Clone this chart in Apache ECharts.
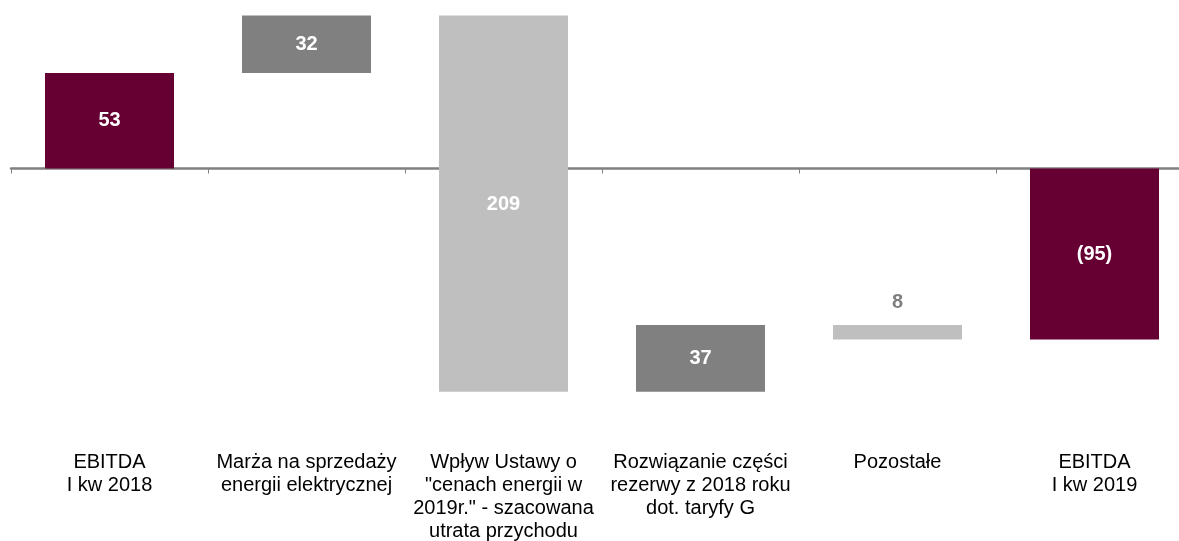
<!DOCTYPE html>
<html>
<head>
<meta charset="utf-8">
<script src="https://cdn.jsdelivr.net/npm/echarts@6/dist/echarts.min.js"></script>
<style>
  html, body { margin: 0; padding: 0; background: #fff; }
  #chart { width: 1179px; height: 541px; }
</style>
</head>
<body>
<div id="chart"></div>
<script>
var categories = [
  'EBITDA\nI kw 2018',
  'Marża na sprzedaży\nenergii elektrycznej',
  'Wpływ Ustawy o\n"cenach energii w\n2019r." - szacowana\nutrata przychodu',
  'Rozwiązanie części\nrezerwy z 2018 roku\ndot. taryfy G',
  'Pozostałe',
  'EBITDA\nI kw 2019'
];
var deltas = [53, 32, -209, 37, -8, -95];
var isTotal = [true, false, false, false, false, true];
var valueLabels = ['53', '32', '209', '37', '8', '(95)'];

// styles
var barColors = ['#660033', '#808080', '#BFBFBF', '#808080', '#BFBFBF', '#660033'];
var labelColors = ['#fff', '#fff', '#fff', '#fff', '#808080', '#fff'];
var labelPos = ['inside', 'inside', 'insideTop', 'inside', 'top', 'inside'];
var labelDist = [0, 0, 179, 0, 13, 0];

var bars = [];
var running = 0;
deltas.forEach(function (d, i) {
  var lo, hi;
  if (isTotal[i]) {
    lo = 0; hi = d; running = d;
  } else {
    lo = running; hi = running + d; running = hi;
  }
  bars.push([i, lo, hi]);
});

var myChart = echarts.init(document.getElementById('chart'));
var option = {
  animation: false,
  grid: { left: 11, width: 1182, top: 6.5, height: 432, outerBoundsMode: 'none', containLabel: false },
  xAxis: [{
    type: 'category',
    data: categories,
    position: 'top',
    axisLine: { onZero: true, lineStyle: { color: '#808080', width: 2.5 } },
    axisTick: { show: true, inside: true, length: 5, lineStyle: { color: '#808080', width: 1 } },
    axisLabel: { show: false },
    splitLine: { show: false }
  }, {
    type: 'category',
    data: categories,
    position: 'bottom',
    axisLine: { show: false },
    axisTick: { show: false },
    axisLabel: {
      margin: 12,
      color: '#000',
      fontFamily: 'Liberation Sans, Arial, sans-serif',
      fontSize: 20,
      lineHeight: 23,
      align: 'center',
      verticalAlign: 'top',
      interval: 0
    }
  }],
  yAxis: {
    type: 'value',
    min: -150,
    max: 90,
    show: false,
    splitLine: { show: false }
  },
  series: [{
    type: 'custom',
    xAxisIndex: 0,
    yAxisIndex: 0,
    encode: { x: 0, y: [1, 2] },
    data: bars,
    renderItem: function (params, api) {
      var i = api.value(0);
      var p1 = api.coord([i, api.value(2)]);
      var p2 = api.coord([i, api.value(1)]);
      var w = api.size([1, 0])[0] * 0.655;
      var top = Math.min(p1[1], p2[1]);
      return {
        type: 'rect',
        shape: { x: p1[0] - w / 2, y: top, width: w, height: Math.abs(p2[1] - p1[1]) },
        style: { fill: barColors[i] },
        textContent: {
          style: {
            text: valueLabels[i],
            fill: labelColors[i],
            fontFamily: 'Liberation Sans, Arial, sans-serif',
            fontWeight: 'bold',
            fontSize: 20
          }
        },
        textConfig: { position: labelPos[i], distance: labelDist[i] }
      };
    }
  }]
};
myChart.setOption(option);
window.addEventListener('resize', function () {
  myChart.resize();
});
</script>
</body>
</html>
